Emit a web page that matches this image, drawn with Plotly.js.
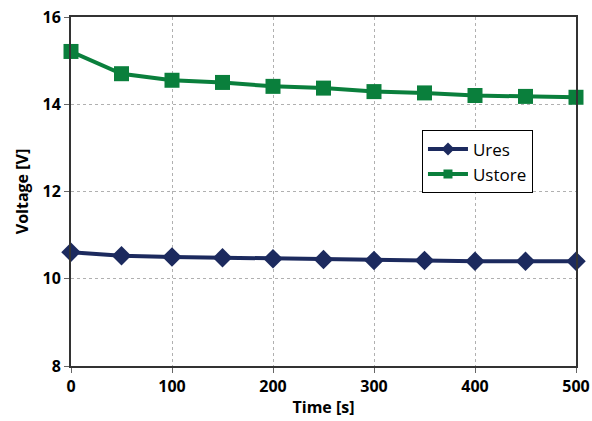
<!DOCTYPE html>
<html>
<head>
<meta charset="utf-8">
<script src="https://cdn.plot.ly/plotly-3.0.1.min.js"></script>
<style>html,body{margin:0;padding:0;background:#fff;}#chart{width:592px;height:421px;}</style>
</head>
<body>
<div id="chart"></div>
<script>
const time = [0, 50, 100, 150, 200, 250, 300, 350, 400, 450, 500];
const ures = [10.61, 10.53, 10.50, 10.48, 10.46, 10.44, 10.42, 10.42, 10.40, 10.40, 10.40];
const ustore = [15.21, 14.70, 14.55, 14.50, 14.41, 14.37, 14.29, 14.26, 14.20, 14.18, 14.16];
const seriesNames = ['Ures', 'Ustore'];
const xTicks = [0, 100, 200, 300, 400, 500];
const yTicks = [8, 10, 12, 14, 16];

const fontFam = "Open Sans, Liberation Sans, Arial, sans-serif";
const cUres = '#1c2a5e', cUstore = '#0a7f3c';

const traces = [
  {x: time, y: ures, name: seriesNames[0], mode: 'lines+markers', cliponaxis: false, showlegend: false,
   line: {color: cUres, width: 4},
   marker: {symbol: 'diamond', size: 15, color: cUres}},
  {x: time, y: ustore, name: seriesNames[1], mode: 'lines+markers', cliponaxis: false, showlegend: false,
   line: {color: cUstore, width: 4},
   marker: {symbol: 'square', size: 15, color: cUstore}},
  // legend entries with smaller markers (no data drawn)
  {x: [null], y: [null], name: seriesNames[0], mode: 'lines+markers',
   line: {color: cUres, width: 4}, marker: {symbol: 'diamond', size: 10, color: cUres}},
  {x: [null], y: [null], name: seriesNames[1], mode: 'lines+markers',
   line: {color: cUstore, width: 4}, marker: {symbol: 'square', size: 9, color: cUstore}}
];

const layout = {
  width: 592, height: 421,
  margin: {l: 71, r: 16, t: 17, b: 55},
  paper_bgcolor: '#fff', plot_bgcolor: '#fff',
  font: {family: fontFam, color: '#000'},
  showlegend: true,
  legend: {x: 0.695, y: 0.675, xanchor: 'left', yanchor: 'top',
    bordercolor: '#000', borderwidth: 1, bgcolor: '#fff',
    itemwidth: 40,
    font: {size: 17, family: fontFam}, tracegroupgap: 0},
  xaxis: {range: [0, 500], tickvals: xTicks, ticktext: xTicks.map(String),
    showline: true, linecolor: '#333', linewidth: 2, mirror: true,
    ticks: 'outside', ticklen: 5, tickcolor: '#666',
    showgrid: true, gridcolor: '#b0b0b0', griddash: 'dot', gridwidth: 1,
    zeroline: false,
    tickfont: {size: 16, family: fontFam, weight: 'bold'},
    title: {text: '<b>Time [s]</b>', font: {size: 16, family: fontFam}, standoff: 6}},
  yaxis: {range: [8, 16], tickvals: yTicks, ticktext: yTicks.map(String),
    showline: true, linecolor: '#333', linewidth: 2, mirror: true,
    ticks: 'outside', ticklen: 5, tickcolor: '#666',
    showgrid: true, gridcolor: '#b0b0b0', griddash: 'dot', gridwidth: 1,
    zeroline: false,
    tickfont: {size: 16, family: fontFam, weight: 'bold'},
    title: {text: '<b>Voltage [V]</b>', font: {size: 16, family: fontFam}, standoff: 10}}
};

Plotly.newPlot('chart', traces, layout, {displayModeBar: false, staticPlot: true});
</script>
</body>
</html>
